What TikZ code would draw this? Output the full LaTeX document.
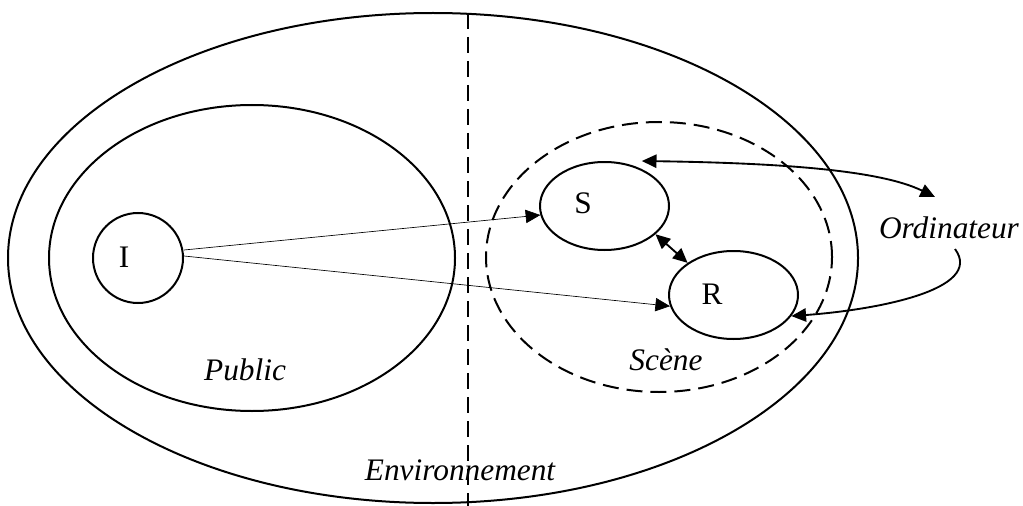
\documentclass[tikz,border=0pt]{standalone}
\usepackage{fontspec}
\setmainfont{Liberation Serif}
\usetikzlibrary{shapes.geometric,arrows.meta}
\begin{document}
\begin{tikzpicture}[x=0.75pt,y=-0.75pt,
  ell/.style={draw,ellipse,line width=1.5pt,inner sep=0pt},
  lbl/.style={font=\fontsize{23.5}{27}\selectfont\itshape,inner sep=0pt},
  ltr/.style={font=\fontsize{23.5}{27}\selectfont,inner sep=0pt},
  thinarr/.style={line width=0.5pt,-{Triangle[length=11pt,width=10pt]}},
  thickarr/.style={line width=1.4pt,-{Triangle[length=11pt,width=10pt]}},
  dbl/.style={line width=1.4pt,{Triangle[length=11pt,width=10pt]}-{Triangle[length=11pt,width=10pt]}},
  dsh/.style={line width=1.5pt,dash pattern=on 12pt off 6pt}]
\useasboundingbox (0,0) rectangle (1023,506);
% ellipses
\node[ell,minimum width=637.5pt,minimum height=367.5pt] (env) at (433,258) {};
\node[ell,minimum width=304.5pt,minimum height=229.5pt] (pub) at (252,258) {};
\node[ell,dsh,minimum width=259.5pt,minimum height=202.5pt] (scene) at (659,257) {};
\node[ell,minimum width=96.75pt,minimum height=66pt] (S) at (604.5,206) {};
\node[ell,minimum width=96.75pt,minimum height=66pt] (R) at (733.5,295) {};
\node[ell,minimum width=67.5pt,minimum height=67.5pt] (I) at (138,258) {};
% letters
\node[ltr] (tS) at (583,203) {S};
\node[ltr] (tR) at (712,294) {R};
\node[ltr] (tI) at (124,257) {I};
% labels
\node[lbl] (lpub) at (245,370) {Public};
\node[lbl] (lscene) at (666,360) {Scène};
\node[lbl] (lenv) at (460,470) {Environnement};
\node[lbl] (lord) at (949,228) {Ordinateur};
% dashed separator
\coordinate (vtop) at (468,13);
\coordinate (vbot) at (468,506);
\draw[dsh] (vtop) -- (vbot);
% arrows from I
\draw[thinarr] ([yshift=6pt]I.east) -- (S.188);
\draw[thinarr] ([yshift=1.5pt]I.east) -- (R.190);
% S <-> R
\draw[dbl] (S.-29) -- (R.145);
% Ordinateur
\coordinate (ordIn) at (935,197);
\coordinate (ordOut) at (955,249);
\draw[dbl] ([xshift=28pt]S.north) .. controls (780,163) and (880,170) .. (ordIn);
\draw[thickarr] (ordOut) .. controls (985,290) and (875,310) .. (R.-20);
\end{tikzpicture}
\end{document}
